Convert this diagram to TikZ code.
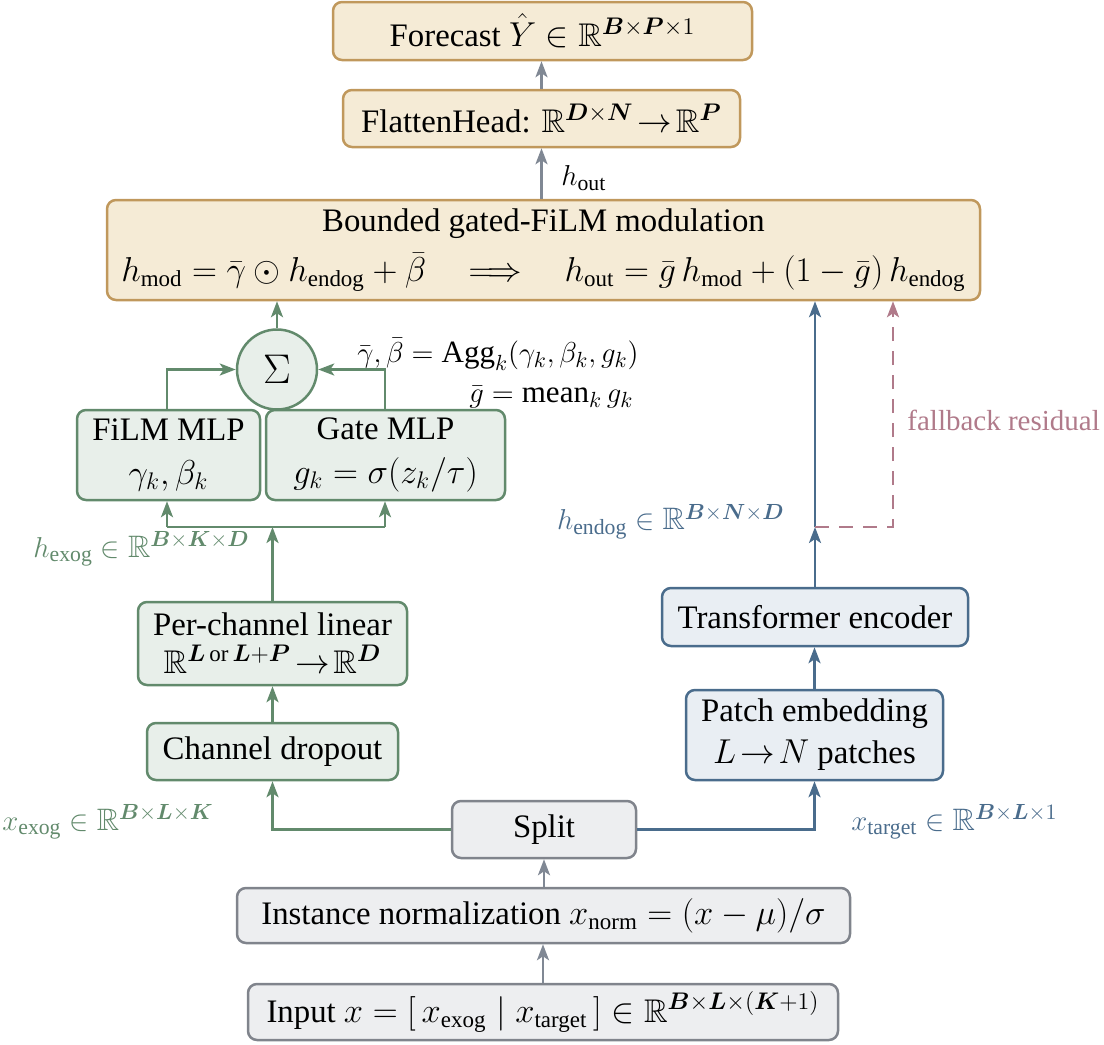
\documentclass[tikz,border=0pt]{standalone}
\usepackage{amsmath,amssymb,bm}
\usepackage[no-math]{fontspec}
\setmainfont{Liberation Serif}
\usetikzlibrary{arrows.meta,calc}
\definecolor{beigeF}{RGB}{245,235,214}
\definecolor{beigeD}{RGB}{192,152,92}
\definecolor{greenF}{RGB}{232,239,234}
\definecolor{greenD}{RGB}{98,138,108}
\definecolor{blueF}{RGB}{233,238,243}
\definecolor{blueD}{RGB}{74,108,140}
\definecolor{grayF}{RGB}{237,238,240}
\definecolor{grayD}{RGB}{128,132,140}
\definecolor{grayA}{RGB}{128,136,148}
\definecolor{pinkD}{RGB}{176,122,138}
\newcommand{\mainsz}{\fontsize{16.4}{20}\selectfont}
\newcommand{\labsz}{\fontsize{15.5}{19}\selectfont}
\newcommand{\RR}{\mathbb{R}}
\newcommand{\tx}[1]{\text{#1}}
\tikzset{
  box/.style={rounded corners=4.5pt, line width=1.25pt, align=center, inner sep=0pt, font=\mainsz},
  bbox/.style={box, draw=beigeD, fill=beigeF},
  gbox/.style={box, draw=greenD, fill=greenF},
  ubox/.style={box, draw=blueD, fill=blueF},
  nbox/.style={box, draw=grayD, fill=grayF},
  arr/.style={-{Stealth[length=8pt,width=6pt,inset=2pt]}, line width=1.35pt},
  ln/.style={line width=1.35pt},
  lab/.style={font=\labsz, inner sep=0pt}
}
\begin{document}
\begin{tikzpicture}[x=0.5pt,y=-0.5pt]
\useasboundingbox (0,0) rectangle (1104,1045);
% nodes
\node[bbox, minimum width=209.5pt, minimum height=29pt] (fc) at (542.5,31) {Forecast $\hat{Y}\in\RR^{\bm{B}\times\bm{P}\times 1}$};
\node[bbox, minimum width=198.5pt, minimum height=28.5pt] (fh) at (541.5,118.5) {FlattenHead: $\RR^{\bm{D}\times\bm{N}}\!\to\!\RR^{\bm{P}}$};
\node[bbox, minimum width=436.5pt, minimum height=50pt] (bg) at (543.5,250) {Bounded gated-FiLM modulation\\[5pt]
  $h_{\tx{mod}}=\bar{\gamma}\odot h_{\tx{endog}}+\bar{\beta}\quad\Longrightarrow\quad h_{\tx{out}}=\bar{g}\,h_{\tx{mod}}+(1-\bar{g})\,h_{\tx{endog}}$};
\node[circle, draw=greenD, fill=greenF, line width=1.25pt, minimum size=40pt, inner sep=0pt, font=\fontsize{20}{24}\selectfont] (sig) at (277,369.5) {$\Sigma$};
\node[gbox, minimum width=91.5pt, minimum height=45pt] (film) at (168.5,455) {FiLM MLP\\[2pt] $\gamma_k,\beta_k$};
\node[gbox, minimum width=119.5pt, minimum height=45pt] (gate) at (385.5,455) {Gate MLP\\[2pt] $g_k=\sigma(z_k/\tau)$};
\node[gbox, minimum width=134.5pt, minimum height=41.5pt] (pcl) at (272.5,643.5) {Per-channel linear\\[-1pt] $\RR^{\bm{L}\,\tx{or}\,\bm{L}+\bm{P}}\!\to\!\RR^{\bm{D}}$};
\node[gbox, minimum width=125.5pt, minimum height=28.5pt] (cd) at (272.5,751.5) {Channel dropout};
\node[nbox, minimum width=92pt, minimum height=28.5pt] (split) at (544,829.5) {Split};
\node[ubox, minimum width=128.5pt, minimum height=45pt] (pe) at (814.5,735) {Patch embedding\\[1pt] $L\!\to\! N$ patches};
\node[ubox, minimum width=153pt, minimum height=29pt] (te) at (815,617) {Transformer encoder};
\node[nbox, minimum width=306.5pt, minimum height=27.5pt] (inorm) at (543.5,915.5) {Instance normalization $x_{\tx{norm}}=(x-\mu)/\sigma$};
\node[nbox, minimum width=295pt, minimum height=28pt] (inp) at (543,1012) {Input $x=[\,x_{\tx{exog}}\mid x_{\tx{target}}\,]\in\RR^{\bm{B}\times\bm{L}\times(\bm{K}+1)}$};
% labels
\node[lab, anchor=west] (hout) at (561,178) {$h_{\tx{out}}$};
\node[lab, anchor=north west, align=left] (agg) at (357,338) {$\bar{\gamma},\bar{\beta}=\tx{Agg}_k(\gamma_k,\beta_k,g_k)$\\[1pt] \hspace{56pt}$\bar{g}=\tx{mean}_k\,g_k$};
\node[lab, anchor=east, text=greenD] (hexog) at (250,549) {$h_{\tx{exog}}\in\RR^{\bm{B}\times\bm{K}\times\bm{D}}$};
\node[lab, anchor=east, text=greenD] (xexog) at (214,822) {$x_{\tx{exog}}\in\RR^{\bm{B}\times\bm{L}\times\bm{K}}$};
\node[lab, anchor=west, text=blueD] (xtarget) at (851,822) {$x_{\tx{target}}\in\RR^{\bm{B}\times\bm{L}\times 1}$};
\node[lab, anchor=east, text=blueD] (hendog) at (785,522) {$h_{\tx{endog}}\in\RR^{\bm{B}\times\bm{N}\times\bm{D}}$};
\node[lab, anchor=west, text=pinkD, font=\fontsize{14.5}{18}\selectfont] (fb) at (907,420) {fallback residual};
% coordinates
\coordinate (jl) at (167,527);
\coordinate (jr) at (385,527);
\coordinate (jm) at (272.5,527);
\coordinate (je) at (815,527);
\coordinate (jf) at (893,527);
% connectors
\draw[arr, grayA] (fh.north) -- (fh.north |- fc.south);
\draw[arr, grayA] (fh.south |- bg.north) -- (fh.south);
\draw[arr, greenD] (sig.north) -- (sig.north |- bg.south);
\draw[arr, greenD] (film.north -| jl) |- (sig.west);
\draw[arr, greenD] (gate.north -| jr) |- (sig.east);
\draw[arr, greenD] (pcl.north) -- (jm);
\draw[ln, greenD] (jl) -- (jr);
\draw[arr, greenD] (jl) -- (jl |- film.south);
\draw[arr, greenD] (jr) -- (jr |- gate.south);
\draw[arr, greenD] (cd.north) -- (pcl.south);
\draw[arr, greenD] (split.west) -| (cd.south);
\draw[arr, blueD] (split.east) -| (pe.south);
\draw[arr, blueD] (pe.north) -- (pe.north |- te.south);
\draw[arr, blueD] (te.north) -- (je);
\draw[arr, blueD] (je) -- (je |- bg.south);
\draw[arr, pinkD, dashed, dash pattern=on 7pt off 5pt] (je) -- (jf) -- (jf |- bg.south);
\draw[arr, grayA] (inp.north) -- (inp.north |- inorm.south);
\draw[arr, grayA] (split.south |- inorm.north) -- (split.south);
\end{tikzpicture}
\end{document}
